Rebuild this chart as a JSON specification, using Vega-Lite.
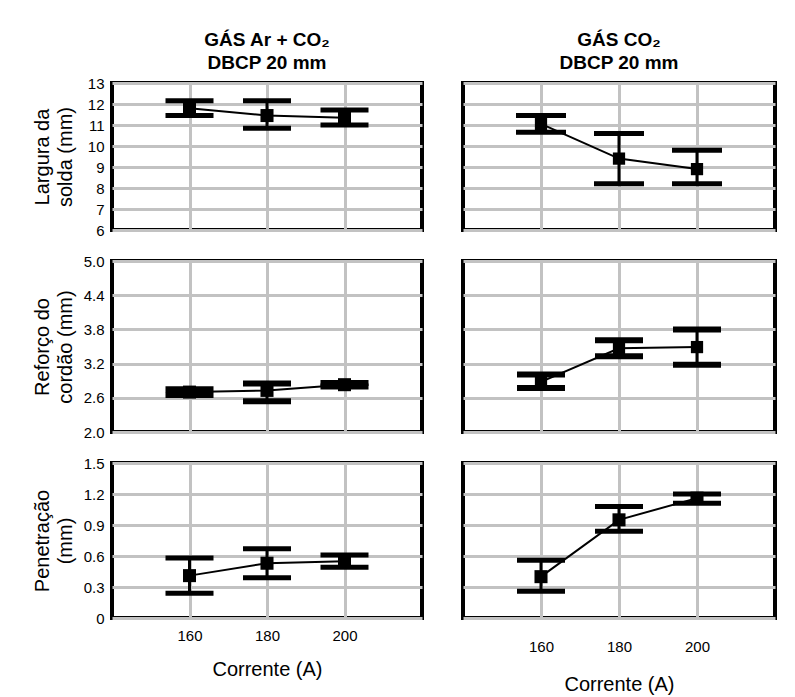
{
  "$schema": "https://vega.github.io/schema/vega-lite/v6.json",
  "padding": {"left": 30, "top": 29, "right": 5, "bottom": 5},
  "background": "white",
  "datasets": {
    "d": [
      {"gas": "ArCO2", "var": "largura", "corrente": 160, "mean": 11.8, "lo": 11.45, "hi": 12.15},
      {"gas": "ArCO2", "var": "largura", "corrente": 180, "mean": 11.45, "lo": 10.85, "hi": 12.15},
      {"gas": "ArCO2", "var": "largura", "corrente": 200, "mean": 11.35, "lo": 11.0, "hi": 11.72},
      {"gas": "CO2", "var": "largura", "corrente": 160, "mean": 11.05, "lo": 10.65, "hi": 11.45},
      {"gas": "CO2", "var": "largura", "corrente": 180, "mean": 9.4, "lo": 8.2, "hi": 10.6},
      {"gas": "CO2", "var": "largura", "corrente": 200, "mean": 8.9, "lo": 8.2, "hi": 9.8},
      {"gas": "ArCO2", "var": "reforco", "corrente": 160, "mean": 2.7, "lo": 2.65, "hi": 2.75},
      {"gas": "ArCO2", "var": "reforco", "corrente": 180, "mean": 2.73, "lo": 2.54, "hi": 2.85},
      {"gas": "ArCO2", "var": "reforco", "corrente": 200, "mean": 2.83, "lo": 2.8, "hi": 2.86},
      {"gas": "CO2", "var": "reforco", "corrente": 160, "mean": 2.88, "lo": 2.77, "hi": 3.01},
      {"gas": "CO2", "var": "reforco", "corrente": 180, "mean": 3.47, "lo": 3.33, "hi": 3.61},
      {"gas": "CO2", "var": "reforco", "corrente": 200, "mean": 3.49, "lo": 3.18, "hi": 3.8},
      {"gas": "ArCO2", "var": "penetracao", "corrente": 160, "mean": 0.41, "lo": 0.24, "hi": 0.58},
      {"gas": "ArCO2", "var": "penetracao", "corrente": 180, "mean": 0.53, "lo": 0.39, "hi": 0.67},
      {"gas": "ArCO2", "var": "penetracao", "corrente": 200, "mean": 0.55, "lo": 0.49, "hi": 0.61},
      {"gas": "CO2", "var": "penetracao", "corrente": 160, "mean": 0.4, "lo": 0.26, "hi": 0.56},
      {"gas": "CO2", "var": "penetracao", "corrente": 180, "mean": 0.95, "lo": 0.84, "hi": 1.08},
      {"gas": "CO2", "var": "penetracao", "corrente": 200, "mean": 1.16, "lo": 1.11, "hi": 1.2}
    ]
  },
  "columns": 2,
  "align": "each",
  "bounds": "flush",
  "spacing": {"row": 31, "column": 41},
  "concat": [
    {
      "width": 310, "height": 147,
      "title": {"text": ["GÁS Ar + CO₂", "DBCP 20 mm"]},
      "data": {"name": "d"},
      "transform": [{"filter": "datum.gas == 'ArCO2' && datum.var == 'largura'"}],
      "encoding": {"x": {"field": "corrente", "type": "quantitative", "scale": {"domain": [140, 220], "nice": false, "zero": false}, "axis": {"values": [160, 180, 200], "labels": false, "title": null}}},
      "layer": [
        {"mark": {"type": "rule", "color": "black", "strokeWidth": 3}, "encoding": {"y": {"field": "lo", "type": "quantitative", "scale": {"domain": [6, 13], "nice": false, "zero": false}, "axis": {"values": [6, 7, 8, 9, 10, 11, 12, 13], "title": ["Largura da", "solda (mm)"]}}, "y2": {"field": "hi"}}},
        {"mark": {"type": "tick", "orient": "horizontal", "color": "black", "thickness": 5, "size": 48, "opacity": 1}, "encoding": {"y": {"field": "lo", "type": "quantitative", "axis": {"values": [6, 7, 8, 9, 10, 11, 12, 13], "title": ["Largura da", "solda (mm)"]}}}},
        {"mark": {"type": "tick", "orient": "horizontal", "color": "black", "thickness": 5, "size": 48, "opacity": 1}, "encoding": {"y": {"field": "hi", "type": "quantitative", "axis": {"values": [6, 7, 8, 9, 10, 11, 12, 13], "title": ["Largura da", "solda (mm)"]}}}},
        {"mark": {"type": "line", "color": "black", "strokeWidth": 2}, "encoding": {"y": {"field": "mean", "type": "quantitative", "axis": {"values": [6, 7, 8, 9, 10, 11, 12, 13], "title": ["Largura da", "solda (mm)"]}}}},
        {"mark": {"type": "point", "shape": "square", "filled": true, "color": "black", "size": 170, "opacity": 1}, "encoding": {"y": {"field": "mean", "type": "quantitative", "axis": {"values": [6, 7, 8, 9, 10, 11, 12, 13], "title": ["Largura da", "solda (mm)"]}}}}
      ]
    },
    {
      "width": 312, "height": 147,
      "title": {"text": ["GÁS  CO₂", "DBCP 20 mm"], "offset": 10},
      "data": {"name": "d"},
      "transform": [{"filter": "datum.gas == 'CO2' && datum.var == 'largura'"}],
      "encoding": {"x": {"field": "corrente", "type": "quantitative", "scale": {"domain": [140, 220], "nice": false, "zero": false}, "axis": {"values": [160, 180, 200], "labels": false, "title": null}}},
      "layer": [
        {"mark": {"type": "rule", "color": "black", "strokeWidth": 3}, "encoding": {"y": {"field": "lo", "type": "quantitative", "scale": {"domain": [6, 13], "nice": false, "zero": false}, "axis": {"values": [6, 7, 8, 9, 10, 11, 12, 13], "labels": false, "title": null}}, "y2": {"field": "hi"}}},
        {"mark": {"type": "tick", "orient": "horizontal", "color": "black", "thickness": 5, "size": 50, "opacity": 1}, "encoding": {"y": {"field": "lo", "type": "quantitative", "axis": {"values": [6, 7, 8, 9, 10, 11, 12, 13], "labels": false, "title": null}}}},
        {"mark": {"type": "tick", "orient": "horizontal", "color": "black", "thickness": 5, "size": 50, "opacity": 1}, "encoding": {"y": {"field": "hi", "type": "quantitative", "axis": {"values": [6, 7, 8, 9, 10, 11, 12, 13], "labels": false, "title": null}}}},
        {"mark": {"type": "line", "color": "black", "strokeWidth": 2}, "encoding": {"y": {"field": "mean", "type": "quantitative", "axis": {"values": [6, 7, 8, 9, 10, 11, 12, 13], "labels": false, "title": null}}}},
        {"mark": {"type": "point", "shape": "square", "filled": true, "color": "black", "size": 150, "opacity": 1}, "encoding": {"y": {"field": "mean", "type": "quantitative", "axis": {"values": [6, 7, 8, 9, 10, 11, 12, 13], "labels": false, "title": null}}}}
      ]
    },
    {
      "width": 310, "height": 171,
      "data": {"name": "d"},
      "transform": [{"filter": "datum.gas == 'ArCO2' && datum.var == 'reforco'"}],
      "encoding": {"x": {"field": "corrente", "type": "quantitative", "scale": {"domain": [140, 220], "nice": false, "zero": false}, "axis": {"values": [160, 180, 200], "labels": false, "title": null}}},
      "layer": [
        {"mark": {"type": "rule", "color": "black", "strokeWidth": 3}, "encoding": {"y": {"field": "lo", "type": "quantitative", "scale": {"domain": [2, 5], "nice": false, "zero": false}, "axis": {"values": [2, 2.6, 3.2, 3.8, 4.4, 5], "format": ".1f", "title": ["Reforço do", "cordão (mm)"]}}, "y2": {"field": "hi"}}},
        {"mark": {"type": "tick", "orient": "horizontal", "color": "black", "thickness": 6, "size": 48, "opacity": 1}, "encoding": {"y": {"field": "lo", "type": "quantitative", "axis": {"values": [2, 2.6, 3.2, 3.8, 4.4, 5], "format": ".1f", "title": ["Reforço do", "cordão (mm)"]}}}},
        {"mark": {"type": "tick", "orient": "horizontal", "color": "black", "thickness": 6, "size": 48, "opacity": 1}, "encoding": {"y": {"field": "hi", "type": "quantitative", "axis": {"values": [2, 2.6, 3.2, 3.8, 4.4, 5], "format": ".1f", "title": ["Reforço do", "cordão (mm)"]}}}},
        {"mark": {"type": "line", "color": "black", "strokeWidth": 2}, "encoding": {"y": {"field": "mean", "type": "quantitative", "axis": {"values": [2, 2.6, 3.2, 3.8, 4.4, 5], "format": ".1f", "title": ["Reforço do", "cordão (mm)"]}}}},
        {"mark": {"type": "point", "shape": "square", "filled": true, "color": "black", "size": 170, "opacity": 1}, "encoding": {"y": {"field": "mean", "type": "quantitative", "axis": {"values": [2, 2.6, 3.2, 3.8, 4.4, 5], "format": ".1f", "title": ["Reforço do", "cordão (mm)"]}}}}
      ]
    },
    {
      "width": 312, "height": 171,
      "data": {"name": "d"},
      "transform": [{"filter": "datum.gas == 'CO2' && datum.var == 'reforco'"}],
      "encoding": {"x": {"field": "corrente", "type": "quantitative", "scale": {"domain": [140, 220], "nice": false, "zero": false}, "axis": {"values": [160, 180, 200], "labels": false, "title": null}}},
      "layer": [
        {"mark": {"type": "rule", "color": "black", "strokeWidth": 3}, "encoding": {"y": {"field": "lo", "type": "quantitative", "scale": {"domain": [2, 5], "nice": false, "zero": false}, "axis": {"values": [2, 2.6, 3.2, 3.8, 4.4, 5], "labels": false, "title": null}}, "y2": {"field": "hi"}}},
        {"mark": {"type": "tick", "orient": "horizontal", "color": "black", "thickness": 6, "size": 48, "opacity": 1}, "encoding": {"y": {"field": "lo", "type": "quantitative", "axis": {"values": [2, 2.6, 3.2, 3.8, 4.4, 5], "labels": false, "title": null}}}},
        {"mark": {"type": "tick", "orient": "horizontal", "color": "black", "thickness": 6, "size": 48, "opacity": 1}, "encoding": {"y": {"field": "hi", "type": "quantitative", "axis": {"values": [2, 2.6, 3.2, 3.8, 4.4, 5], "labels": false, "title": null}}}},
        {"mark": {"type": "line", "color": "black", "strokeWidth": 2}, "encoding": {"y": {"field": "mean", "type": "quantitative", "axis": {"values": [2, 2.6, 3.2, 3.8, 4.4, 5], "labels": false, "title": null}}}},
        {"mark": {"type": "point", "shape": "square", "filled": true, "color": "black", "size": 150, "opacity": 1}, "encoding": {"y": {"field": "mean", "type": "quantitative", "axis": {"values": [2, 2.6, 3.2, 3.8, 4.4, 5], "labels": false, "title": null}}}}
      ]
    },
    {
      "width": 310, "height": 155,
      "data": {"name": "d"},
      "transform": [{"filter": "datum.gas == 'ArCO2' && datum.var == 'penetracao'"}],
      "encoding": {"x": {"field": "corrente", "type": "quantitative", "scale": {"domain": [140, 220], "nice": false, "zero": false}, "axis": {"values": [160, 180, 200], "title": "Corrente (A)", "labelPadding": 10, "titlePadding": 16}}},
      "layer": [
        {"mark": {"type": "rule", "color": "black", "strokeWidth": 3}, "encoding": {"y": {"field": "lo", "type": "quantitative", "scale": {"domain": [0, 1.5], "nice": false, "zero": false}, "axis": {"values": [0, 0.3, 0.6, 0.9, 1.2, 1.5], "format": "~g", "title": ["Penetração", "(mm)"]}}, "y2": {"field": "hi"}}},
        {"mark": {"type": "tick", "orient": "horizontal", "color": "black", "thickness": 5, "size": 48, "opacity": 1}, "encoding": {"y": {"field": "lo", "type": "quantitative", "axis": {"values": [0, 0.3, 0.6, 0.9, 1.2, 1.5], "format": "~g", "title": ["Penetração", "(mm)"]}}}},
        {"mark": {"type": "tick", "orient": "horizontal", "color": "black", "thickness": 5, "size": 48, "opacity": 1}, "encoding": {"y": {"field": "hi", "type": "quantitative", "axis": {"values": [0, 0.3, 0.6, 0.9, 1.2, 1.5], "format": "~g", "title": ["Penetração", "(mm)"]}}}},
        {"mark": {"type": "line", "color": "black", "strokeWidth": 2}, "encoding": {"y": {"field": "mean", "type": "quantitative", "axis": {"values": [0, 0.3, 0.6, 0.9, 1.2, 1.5], "format": "~g", "title": ["Penetração", "(mm)"]}}}},
        {"mark": {"type": "point", "shape": "square", "filled": true, "color": "black", "size": 170, "opacity": 1}, "encoding": {"y": {"field": "mean", "type": "quantitative", "axis": {"values": [0, 0.3, 0.6, 0.9, 1.2, 1.5], "format": "~g", "title": ["Penetração", "(mm)"]}}}}
      ]
    },
    {
      "width": 312, "height": 155,
      "data": {"name": "d"},
      "transform": [{"filter": "datum.gas == 'CO2' && datum.var == 'penetracao'"}],
      "encoding": {"x": {"field": "corrente", "type": "quantitative", "scale": {"domain": [140, 220], "nice": false, "zero": false}, "axis": {"values": [160, 180, 200], "title": "Corrente (A)", "labelPadding": 21, "titlePadding": 20}}},
      "layer": [
        {"mark": {"type": "rule", "color": "black", "strokeWidth": 3}, "encoding": {"y": {"field": "lo", "type": "quantitative", "scale": {"domain": [0, 1.5], "nice": false, "zero": false}, "axis": {"values": [0, 0.3, 0.6, 0.9, 1.2, 1.5], "labels": false, "title": null}}, "y2": {"field": "hi"}}},
        {"mark": {"type": "tick", "orient": "horizontal", "color": "black", "thickness": 5, "size": 48, "opacity": 1}, "encoding": {"y": {"field": "lo", "type": "quantitative", "axis": {"values": [0, 0.3, 0.6, 0.9, 1.2, 1.5], "labels": false, "title": null}}}},
        {"mark": {"type": "tick", "orient": "horizontal", "color": "black", "thickness": 5, "size": 48, "opacity": 1}, "encoding": {"y": {"field": "hi", "type": "quantitative", "axis": {"values": [0, 0.3, 0.6, 0.9, 1.2, 1.5], "labels": false, "title": null}}}},
        {"mark": {"type": "line", "color": "black", "strokeWidth": 2}, "encoding": {"y": {"field": "mean", "type": "quantitative", "axis": {"values": [0, 0.3, 0.6, 0.9, 1.2, 1.5], "labels": false, "title": null}}}},
        {"mark": {"type": "point", "shape": "square", "filled": true, "color": "black", "size": 170, "opacity": 1}, "encoding": {"y": {"field": "mean", "type": "quantitative", "axis": {"values": [0, 0.3, 0.6, 0.9, 1.2, 1.5], "labels": false, "title": null}}}}
      ]
    }
  ],
  "config": {
    "font": "Liberation Sans",
    "view": {"stroke": "black", "strokeWidth": 4},
    "title": {"anchor": "middle", "fontSize": 19, "fontWeight": "bold", "color": "black", "lineHeight": 23, "offset": 3, "font": "Liberation Sans"},
    "axis": {
      "gridColor": "#c2c2c2", "gridWidth": 3, "gridOpacity": 1,
      "ticks": false, "domain": false, "labelOverlap": false,
      "labelFont": "Liberation Sans", "labelFontSize": 15, "labelColor": "black", "labelPadding": 8,
      "titleFont": "Liberation Sans", "titleFontSize": 20, "titleFontWeight": "normal", "titleColor": "black", "titleLineHeight": 23
    },
    "axisY": {"minExtent": 29, "maxExtent": 29, "titlePadding": 8}
  }
}
